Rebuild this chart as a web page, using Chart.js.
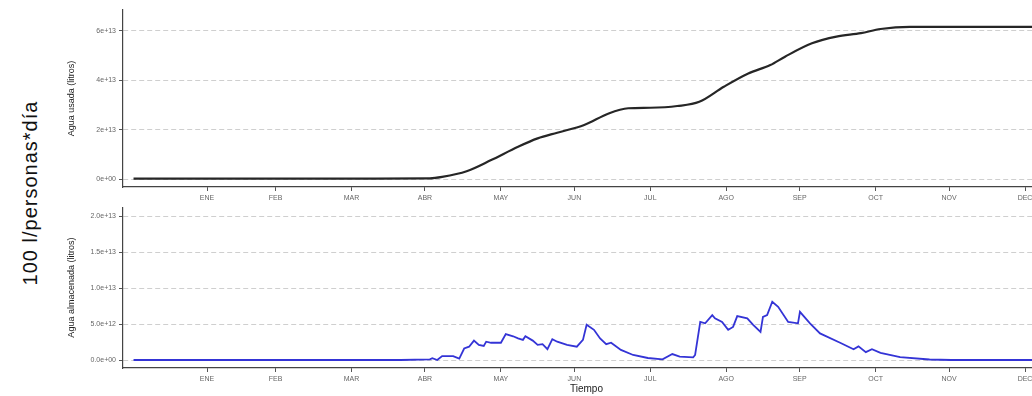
<!DOCTYPE html>
<html lang="es">
<head>
    <meta charset="UTF-8">
    <title>Agua usada y almacenada</title>
    <script src="https://cdn.jsdelivr.net/npm/chart.js"></script>
    <style>
        html, body {
            margin: 0;
            padding: 0;
            background: #ffffff;
            overflow: hidden;
            width: 1032px;
            height: 396px;
        }
        .side-label {
            position: absolute;
            left: 30px;
            top: 193px;
            transform: translate(-50%, -50%) rotate(-90deg);
            font-family: "Liberation Sans", Arial, sans-serif;
            font-size: 20px;
            letter-spacing: 1px;
            color: #111;
            white-space: nowrap;
        }
        #usedChart { position: absolute; left: 0; top: 0; }
        #storedChart { position: absolute; left: 0; top: 200px; }
    </style>
</head>
<body>
    <div class="side-label">100 l/personas*día</div>
    <canvas id="usedChart" width="1062" height="206"></canvas>
    <canvas id="storedChart" width="1062" height="196"></canvas>
    <script>
        // month ticks (day of year at end of each month)
        var monthDays = [31, 59, 90, 120, 151, 181, 212, 243, 273, 304, 334, 365];
        var monthLabels = ['ENE', 'FEB', 'MAR', 'ABR', 'MAY', 'JUN', 'JUL', 'AGO', 'SEP', 'OCT', 'NOV', 'DEC'];

        // agua usada (x 1e13 litros)
        var usedDays = [1, 100, 122, 127, 137, 147, 158, 166, 174, 185, 195, 203, 212, 223, 232, 242, 252, 261, 267, 278, 288, 298, 306, 318, 368];
        var usedValues = [0.02, 0.02, 0.03, 0.09, 0.32, 0.77, 1.31, 1.65, 1.88, 2.19, 2.66, 2.87, 2.89, 2.96, 3.13, 3.74, 4.28, 4.62, 4.96, 5.50, 5.77, 5.91, 6.08, 6.17, 6.17];

        // agua almacenada (x 1e12 litros)
        var storedDays = [1, 110, 122, 123, 125, 127, 131.5, 134, 136, 138, 140, 142, 144, 145, 147, 151, 153, 156, 158, 160, 161, 164, 166, 168, 170, 172, 174, 178, 182, 184.5, 186, 189, 191.5, 194, 196, 200, 205, 211, 217, 221, 224, 229.5, 230.3, 232.4, 234.4, 237.3, 238.4, 241.3, 243.8, 245.8, 247.5, 251.6, 254, 257, 258, 259.7, 261.8, 264.2, 268.3, 272.3, 273.1, 277.2, 281.3, 289.5, 295, 297, 300, 302.5, 306, 314, 326, 335, 368];
        var storedValues = [0, 0, 0.1, 0.25, 0, 0.55, 0.55, 0.2, 1.6, 1.85, 2.7, 2.1, 1.95, 2.55, 2.4, 2.4, 3.6, 3.3, 3.0, 2.8, 3.3, 2.7, 2.1, 2.2, 1.5, 2.9, 2.55, 2.1, 1.85, 2.8, 4.9, 4.2, 3.0, 2.2, 2.4, 1.4, 0.7, 0.28, 0.1, 0.83, 0.46, 0.37, 0.7, 5.3, 5.1, 6.25, 5.8, 5.3, 4.2, 4.6, 6.1, 5.8, 4.9, 3.9, 6.0, 6.25, 8.1, 7.4, 5.3, 5.1, 6.7, 5.1, 3.7, 2.4, 1.5, 1.9, 1.1, 1.5, 1.0, 0.4, 0.07, 0, 0];

        var usedTicks = [0, 2e13, 4e13, 6e13];
        var usedTickLabels = ['0e+00', '2e+13', '4e+13', '6e+13'];
        var storedTicks = [0, 5e12, 1e13, 1.5e13, 2e13];
        var storedTickLabels = ['0.0e+00', '5.0e+12', '1.0e+13', '1.5e+13', '2.0e+13'];

        var fontFamily = '"Liberation Sans", Arial, sans-serif';
        Chart.defaults.font.family = fontFamily;
        Chart.defaults.animation = false;

        function xAxis(height, withTitle) {
            return {
                type: 'linear',
                min: -3.3,
                max: 375.2,
                afterBuildTicks: function(scale) {
                    scale.ticks = monthDays.map(function(d) { return { value: d }; });
                },
                afterFit: function(scale) { scale.height = height; },
                ticks: {
                    autoSkip: false,
                    maxRotation: 0,
                    padding: 3,
                    color: '#666',
                    font: { size: 7 },
                    callback: function(v, i) { return monthLabels[i]; }
                },
                grid: { drawOnChartArea: false, tickLength: 4, tickColor: '#555' },
                border: { display: true, color: '#444', width: 1.2 },
                title: {
                    display: withTitle,
                    text: 'Tiempo',
                    color: '#222',
                    font: { size: 10 },
                    padding: { top: 0, bottom: 1 }
                }
            };
        }

        function yAxis(min, max, tickVals, tickLabels, title) {
            return {
                min: min,
                max: max,
                afterBuildTicks: function(scale) {
                    scale.ticks = tickVals.map(function(v) { return { value: v }; });
                },
                afterFit: function(scale) { scale.width = 61; },
                ticks: {
                    padding: 3,
                    color: '#666',
                    font: { size: 7 },
                    callback: function(v, i) { return tickLabels[i]; }
                },
                grid: { color: '#cfcfcf', tickLength: 4, tickColor: '#555' },
                border: { display: true, color: '#444', width: 1.2, dash: [5, 3] },
                title: {
                    display: true,
                    text: title,
                    color: '#222',
                    font: { size: 9 },
                    padding: { top: 4, bottom: 0 }
                }
            };
        }

        var usedChart = new Chart(document.getElementById('usedChart'), {
            type: 'line',
            data: {
                datasets: [{
                    data: usedDays.map(function(d, i) { return { x: d, y: usedValues[i] * 1e13 }; }),
                    borderColor: '#262626',
                    borderWidth: 2.2,
                    pointRadius: 0,
                    cubicInterpolationMode: 'monotone',
                    fill: false
                }]
            },
            options: {
                responsive: false,
                layout: { padding: { left: 62, top: 10, right: 12, bottom: 0 } },
                plugins: { legend: { display: false }, tooltip: { enabled: false } },
                scales: {
                    x: xAxis(19, false),
                    y: yAxis(-0.32e13, 6.85e13, usedTicks, usedTickLabels, 'Agua usada (litros)')
                }
            }
        });

        var storedChart = new Chart(document.getElementById('storedChart'), {
            type: 'line',
            data: {
                datasets: [{
                    data: storedDays.map(function(d, i) { return { x: d, y: storedValues[i] * 1e12 }; }),
                    borderColor: '#3434d6',
                    borderWidth: 1.8,
                    pointRadius: 0,
                    tension: 0,
                    fill: false
                }]
            },
            options: {
                responsive: false,
                layout: { padding: { left: 62, top: 7, right: 12, bottom: 0 } },
                plugins: { legend: { display: false }, tooltip: { enabled: false } },
                scales: {
                    x: xAxis(28, true),
                    y: yAxis(-0.111e13, 2.125e13, storedTicks, storedTickLabels, 'Agua almacenada (litros)')
                }
            }
        });
    </script>
</body>
</html>
